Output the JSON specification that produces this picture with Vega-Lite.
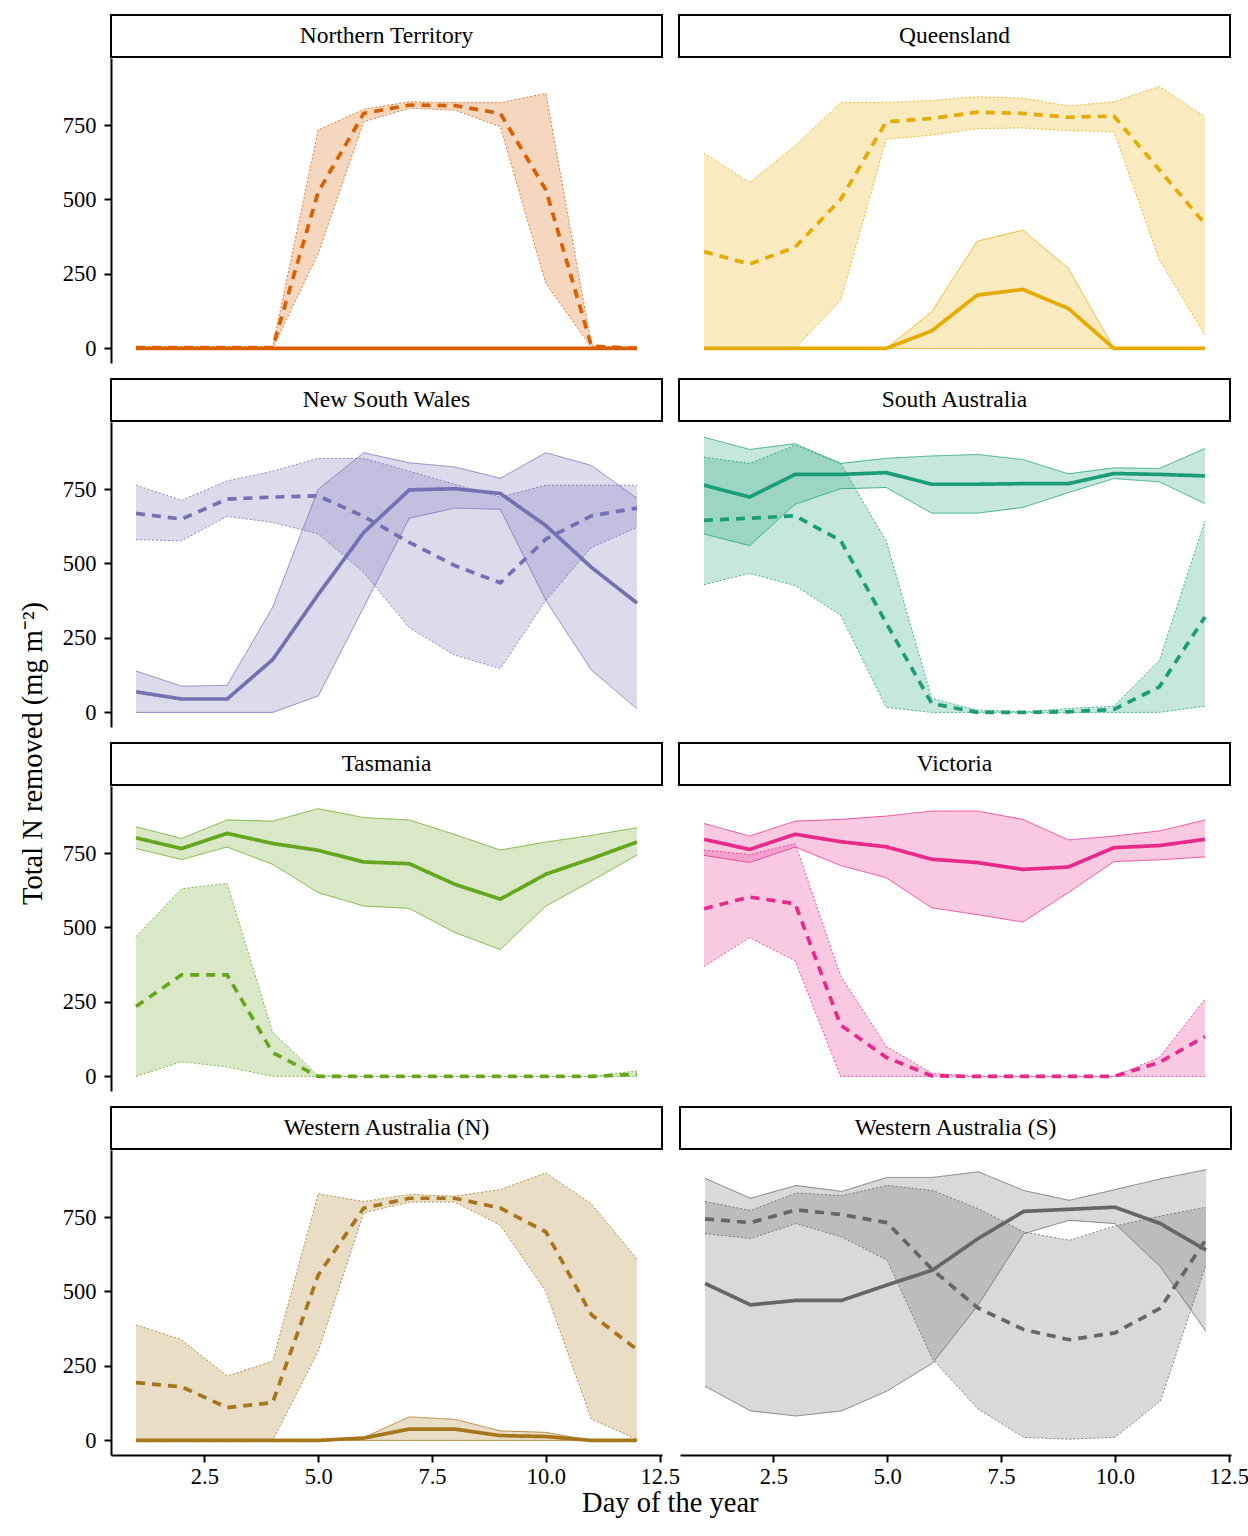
{
"$schema": "https://vega.github.io/schema/vega-lite/v6.json",
"background": "white",
"padding": {"left": 18, "top": 14, "right": 5, "bottom": 5},
"data": {"values": [
{"r":"Northern Territory","t":"solid","x":1,"m":0,"lo":0,"hi":0},
{"r":"Northern Territory","t":"solid","x":2,"m":0,"lo":0,"hi":0},
{"r":"Northern Territory","t":"solid","x":3,"m":0,"lo":0,"hi":0},
{"r":"Northern Territory","t":"solid","x":4,"m":0,"lo":0,"hi":0},
{"r":"Northern Territory","t":"solid","x":5,"m":0,"lo":0,"hi":0},
{"r":"Northern Territory","t":"solid","x":6,"m":0,"lo":0,"hi":0},
{"r":"Northern Territory","t":"solid","x":7,"m":0,"lo":0,"hi":0},
{"r":"Northern Territory","t":"solid","x":8,"m":0,"lo":0,"hi":0},
{"r":"Northern Territory","t":"solid","x":9,"m":0,"lo":0,"hi":0},
{"r":"Northern Territory","t":"solid","x":10,"m":0,"lo":0,"hi":0},
{"r":"Northern Territory","t":"solid","x":11,"m":0,"lo":0,"hi":0},
{"r":"Northern Territory","t":"solid","x":12,"m":0,"lo":0,"hi":0},
{"r":"Northern Territory","t":"dashed","x":1,"m":3,"lo":0,"hi":5},
{"r":"Northern Territory","t":"dashed","x":2,"m":3,"lo":0,"hi":5},
{"r":"Northern Territory","t":"dashed","x":3,"m":3,"lo":0,"hi":5},
{"r":"Northern Territory","t":"dashed","x":4,"m":3,"lo":0,"hi":5},
{"r":"Northern Territory","t":"dashed","x":5,"m":525,"lo":319,"hi":733},
{"r":"Northern Territory","t":"dashed","x":6,"m":789,"lo":761,"hi":803},
{"r":"Northern Territory","t":"dashed","x":7,"m":817,"lo":806,"hi":828},
{"r":"Northern Territory","t":"dashed","x":8,"m":815,"lo":800,"hi":825},
{"r":"Northern Territory","t":"dashed","x":9,"m":789,"lo":744,"hi":825},
{"r":"Northern Territory","t":"dashed","x":10,"m":532,"lo":218,"hi":856},
{"r":"Northern Territory","t":"dashed","x":11,"m":8,"lo":3,"hi":11},
{"r":"Northern Territory","t":"dashed","x":12,"m":0,"lo":0,"hi":0},
{"r":"Queensland","t":"solid","x":1,"m":0,"lo":0,"hi":0},
{"r":"Queensland","t":"solid","x":2,"m":0,"lo":0,"hi":0},
{"r":"Queensland","t":"solid","x":3,"m":0,"lo":0,"hi":0},
{"r":"Queensland","t":"solid","x":4,"m":0,"lo":0,"hi":0},
{"r":"Queensland","t":"solid","x":5,"m":0,"lo":0,"hi":0},
{"r":"Queensland","t":"solid","x":6,"m":59,"lo":0,"hi":123},
{"r":"Queensland","t":"solid","x":7,"m":179,"lo":0,"hi":360},
{"r":"Queensland","t":"solid","x":8,"m":198,"lo":0,"hi":397},
{"r":"Queensland","t":"solid","x":9,"m":134,"lo":0,"hi":269},
{"r":"Queensland","t":"solid","x":10,"m":0,"lo":0,"hi":0},
{"r":"Queensland","t":"solid","x":11,"m":0,"lo":0,"hi":0},
{"r":"Queensland","t":"solid","x":12,"m":0,"lo":0,"hi":0},
{"r":"Queensland","t":"dashed","x":1,"m":325,"lo":0,"hi":655},
{"r":"Queensland","t":"dashed","x":2,"m":283,"lo":0,"hi":557},
{"r":"Queensland","t":"dashed","x":3,"m":340,"lo":0,"hi":680},
{"r":"Queensland","t":"dashed","x":4,"m":500,"lo":162,"hi":825},
{"r":"Queensland","t":"dashed","x":5,"m":761,"lo":702,"hi":826},
{"r":"Queensland","t":"dashed","x":6,"m":772,"lo":716,"hi":832},
{"r":"Queensland","t":"dashed","x":7,"m":793,"lo":738,"hi":845},
{"r":"Queensland","t":"dashed","x":8,"m":789,"lo":740,"hi":840},
{"r":"Queensland","t":"dashed","x":9,"m":776,"lo":731,"hi":814},
{"r":"Queensland","t":"dashed","x":10,"m":780,"lo":728,"hi":828},
{"r":"Queensland","t":"dashed","x":11,"m":599,"lo":297,"hi":879},
{"r":"Queensland","t":"dashed","x":12,"m":418,"lo":45,"hi":778},
{"r":"New South Wales","t":"solid","x":1,"m":69,"lo":0,"hi":139},
{"r":"New South Wales","t":"solid","x":2,"m":45,"lo":0,"hi":88},
{"r":"New South Wales","t":"solid","x":3,"m":45,"lo":0,"hi":91},
{"r":"New South Wales","t":"solid","x":4,"m":177,"lo":0,"hi":353},
{"r":"New South Wales","t":"solid","x":5,"m":396,"lo":55,"hi":749},
{"r":"New South Wales","t":"solid","x":6,"m":604,"lo":353,"hi":872},
{"r":"New South Wales","t":"solid","x":7,"m":747,"lo":652,"hi":838},
{"r":"New South Wales","t":"solid","x":8,"m":751,"lo":686,"hi":824},
{"r":"New South Wales","t":"solid","x":9,"m":735,"lo":682,"hi":786},
{"r":"New South Wales","t":"solid","x":10,"m":627,"lo":376,"hi":872},
{"r":"New South Wales","t":"solid","x":11,"m":487,"lo":142,"hi":829},
{"r":"New South Wales","t":"solid","x":12,"m":367,"lo":12,"hi":719},
{"r":"New South Wales","t":"dashed","x":1,"m":668,"lo":580,"hi":763},
{"r":"New South Wales","t":"dashed","x":2,"m":649,"lo":576,"hi":712},
{"r":"New South Wales","t":"dashed","x":3,"m":716,"lo":658,"hi":777},
{"r":"New South Wales","t":"dashed","x":4,"m":723,"lo":638,"hi":810},
{"r":"New South Wales","t":"dashed","x":5,"m":727,"lo":599,"hi":853},
{"r":"New South Wales","t":"dashed","x":6,"m":658,"lo":470,"hi":853},
{"r":"New South Wales","t":"dashed","x":7,"m":571,"lo":284,"hi":810},
{"r":"New South Wales","t":"dashed","x":8,"m":493,"lo":192,"hi":766},
{"r":"New South Wales","t":"dashed","x":9,"m":435,"lo":147,"hi":723},
{"r":"New South Wales","t":"dashed","x":10,"m":582,"lo":376,"hi":763},
{"r":"New South Wales","t":"dashed","x":11,"m":660,"lo":554,"hi":763},
{"r":"New South Wales","t":"dashed","x":12,"m":686,"lo":621,"hi":763},
{"r":"South Australia","t":"solid","x":1,"m":763,"lo":599,"hi":924},
{"r":"South Australia","t":"solid","x":2,"m":723,"lo":560,"hi":883},
{"r":"South Australia","t":"solid","x":3,"m":799,"lo":699,"hi":902},
{"r":"South Australia","t":"solid","x":4,"m":799,"lo":751,"hi":836},
{"r":"South Australia","t":"solid","x":5,"m":805,"lo":755,"hi":853},
{"r":"South Australia","t":"solid","x":6,"m":766,"lo":669,"hi":861},
{"r":"South Australia","t":"solid","x":7,"m":766,"lo":669,"hi":866},
{"r":"South Australia","t":"solid","x":8,"m":768,"lo":688,"hi":849},
{"r":"South Australia","t":"solid","x":9,"m":768,"lo":738,"hi":801},
{"r":"South Australia","t":"solid","x":10,"m":802,"lo":785,"hi":821},
{"r":"South Australia","t":"solid","x":11,"m":799,"lo":774,"hi":819},
{"r":"South Australia","t":"solid","x":12,"m":794,"lo":701,"hi":886},
{"r":"South Australia","t":"dashed","x":1,"m":645,"lo":429,"hi":857},
{"r":"South Australia","t":"dashed","x":2,"m":652,"lo":467,"hi":836},
{"r":"South Australia","t":"dashed","x":3,"m":660,"lo":426,"hi":897},
{"r":"South Australia","t":"dashed","x":4,"m":577,"lo":326,"hi":836},
{"r":"South Australia","t":"dashed","x":5,"m":300,"lo":17,"hi":576},
{"r":"South Australia","t":"dashed","x":6,"m":30,"lo":0,"hi":47},
{"r":"South Australia","t":"dashed","x":7,"m":0,"lo":0,"hi":8},
{"r":"South Australia","t":"dashed","x":8,"m":0,"lo":0,"hi":2},
{"r":"South Australia","t":"dashed","x":9,"m":2,"lo":0,"hi":13},
{"r":"South Australia","t":"dashed","x":10,"m":10,"lo":0,"hi":21},
{"r":"South Australia","t":"dashed","x":11,"m":86,"lo":0,"hi":175},
{"r":"South Australia","t":"dashed","x":12,"m":320,"lo":21,"hi":643},
{"r":"Tasmania","t":"solid","x":1,"m":801,"lo":765,"hi":838},
{"r":"Tasmania","t":"solid","x":2,"m":765,"lo":728,"hi":799},
{"r":"Tasmania","t":"solid","x":3,"m":816,"lo":770,"hi":861},
{"r":"Tasmania","t":"solid","x":4,"m":782,"lo":712,"hi":857},
{"r":"Tasmania","t":"solid","x":5,"m":759,"lo":617,"hi":899},
{"r":"Tasmania","t":"solid","x":6,"m":720,"lo":572,"hi":869},
{"r":"Tasmania","t":"solid","x":7,"m":714,"lo":564,"hi":861},
{"r":"Tasmania","t":"solid","x":8,"m":645,"lo":483,"hi":812},
{"r":"Tasmania","t":"solid","x":9,"m":595,"lo":426,"hi":760},
{"r":"Tasmania","t":"solid","x":10,"m":679,"lo":572,"hi":787},
{"r":"Tasmania","t":"solid","x":11,"m":731,"lo":656,"hi":809},
{"r":"Tasmania","t":"solid","x":12,"m":787,"lo":743,"hi":835},
{"r":"Tasmania","t":"dashed","x":1,"m":235,"lo":0,"hi":469},
{"r":"Tasmania","t":"dashed","x":2,"m":341,"lo":49,"hi":630},
{"r":"Tasmania","t":"dashed","x":3,"m":341,"lo":32,"hi":648},
{"r":"Tasmania","t":"dashed","x":4,"m":80,"lo":0,"hi":148},
{"r":"Tasmania","t":"dashed","x":5,"m":0,"lo":0,"hi":2},
{"r":"Tasmania","t":"dashed","x":6,"m":0,"lo":0,"hi":0},
{"r":"Tasmania","t":"dashed","x":7,"m":0,"lo":0,"hi":0},
{"r":"Tasmania","t":"dashed","x":8,"m":0,"lo":0,"hi":0},
{"r":"Tasmania","t":"dashed","x":9,"m":0,"lo":0,"hi":0},
{"r":"Tasmania","t":"dashed","x":10,"m":0,"lo":0,"hi":0},
{"r":"Tasmania","t":"dashed","x":11,"m":0,"lo":0,"hi":0},
{"r":"Tasmania","t":"dashed","x":12,"m":7,"lo":0,"hi":19},
{"r":"Victoria","t":"solid","x":1,"m":796,"lo":742,"hi":849},
{"r":"Victoria","t":"solid","x":2,"m":762,"lo":718,"hi":807},
{"r":"Victoria","t":"solid","x":3,"m":813,"lo":770,"hi":857},
{"r":"Victoria","t":"solid","x":4,"m":788,"lo":708,"hi":863},
{"r":"Victoria","t":"solid","x":5,"m":771,"lo":667,"hi":874},
{"r":"Victoria","t":"solid","x":6,"m":729,"lo":566,"hi":891},
{"r":"Victoria","t":"solid","x":7,"m":718,"lo":543,"hi":891},
{"r":"Victoria","t":"solid","x":8,"m":695,"lo":518,"hi":863},
{"r":"Victoria","t":"solid","x":9,"m":703,"lo":617,"hi":794},
{"r":"Victoria","t":"solid","x":10,"m":768,"lo":721,"hi":807},
{"r":"Victoria","t":"solid","x":11,"m":775,"lo":727,"hi":824},
{"r":"Victoria","t":"solid","x":12,"m":796,"lo":737,"hi":861},
{"r":"Victoria","t":"dashed","x":1,"m":563,"lo":369,"hi":760},
{"r":"Victoria","t":"dashed","x":2,"m":602,"lo":466,"hi":745},
{"r":"Victoria","t":"dashed","x":3,"m":580,"lo":388,"hi":782},
{"r":"Victoria","t":"dashed","x":4,"m":172,"lo":0,"hi":338},
{"r":"Victoria","t":"dashed","x":5,"m":64,"lo":0,"hi":101},
{"r":"Victoria","t":"dashed","x":6,"m":2,"lo":0,"hi":11},
{"r":"Victoria","t":"dashed","x":7,"m":0,"lo":0,"hi":0},
{"r":"Victoria","t":"dashed","x":8,"m":0,"lo":0,"hi":0},
{"r":"Victoria","t":"dashed","x":9,"m":0,"lo":0,"hi":0},
{"r":"Victoria","t":"dashed","x":10,"m":0,"lo":0,"hi":0},
{"r":"Victoria","t":"dashed","x":11,"m":47,"lo":0,"hi":64},
{"r":"Victoria","t":"dashed","x":12,"m":134,"lo":0,"hi":259},
{"r":"Western Australia (N)","t":"solid","x":1,"m":0,"lo":0,"hi":0},
{"r":"Western Australia (N)","t":"solid","x":2,"m":0,"lo":0,"hi":0},
{"r":"Western Australia (N)","t":"solid","x":3,"m":0,"lo":0,"hi":0},
{"r":"Western Australia (N)","t":"solid","x":4,"m":0,"lo":0,"hi":0},
{"r":"Western Australia (N)","t":"solid","x":5,"m":0,"lo":0,"hi":0},
{"r":"Western Australia (N)","t":"solid","x":6,"m":8,"lo":0,"hi":10},
{"r":"Western Australia (N)","t":"solid","x":7,"m":38,"lo":0,"hi":79},
{"r":"Western Australia (N)","t":"solid","x":8,"m":38,"lo":0,"hi":71},
{"r":"Western Australia (N)","t":"solid","x":9,"m":16,"lo":0,"hi":32},
{"r":"Western Australia (N)","t":"solid","x":10,"m":13,"lo":0,"hi":27},
{"r":"Western Australia (N)","t":"solid","x":11,"m":0,"lo":0,"hi":0},
{"r":"Western Australia (N)","t":"solid","x":12,"m":0,"lo":0,"hi":0},
{"r":"Western Australia (N)","t":"dashed","x":1,"m":194,"lo":0,"hi":388},
{"r":"Western Australia (N)","t":"dashed","x":2,"m":180,"lo":0,"hi":338},
{"r":"Western Australia (N)","t":"dashed","x":3,"m":110,"lo":0,"hi":216},
{"r":"Western Australia (N)","t":"dashed","x":4,"m":127,"lo":0,"hi":266},
{"r":"Western Australia (N)","t":"dashed","x":5,"m":555,"lo":299,"hi":828},
{"r":"Western Australia (N)","t":"dashed","x":6,"m":780,"lo":764,"hi":802},
{"r":"Western Australia (N)","t":"dashed","x":7,"m":813,"lo":800,"hi":826},
{"r":"Western Australia (N)","t":"dashed","x":8,"m":813,"lo":800,"hi":820},
{"r":"Western Australia (N)","t":"dashed","x":9,"m":780,"lo":722,"hi":842},
{"r":"Western Australia (N)","t":"dashed","x":10,"m":700,"lo":500,"hi":898},
{"r":"Western Australia (N)","t":"dashed","x":11,"m":422,"lo":71,"hi":794},
{"r":"Western Australia (N)","t":"dashed","x":12,"m":305,"lo":4,"hi":609},
{"r":"Western Australia (S)","t":"solid","x":1,"m":527,"lo":182,"hi":880},
{"r":"Western Australia (S)","t":"solid","x":2,"m":455,"lo":99,"hi":813},
{"r":"Western Australia (S)","t":"solid","x":3,"m":470,"lo":82,"hi":856},
{"r":"Western Australia (S)","t":"solid","x":4,"m":470,"lo":99,"hi":836},
{"r":"Western Australia (S)","t":"solid","x":5,"m":522,"lo":166,"hi":883},
{"r":"Western Australia (S)","t":"solid","x":6,"m":572,"lo":260,"hi":883},
{"r":"Western Australia (S)","t":"solid","x":7,"m":678,"lo":455,"hi":902},
{"r":"Western Australia (S)","t":"solid","x":8,"m":769,"lo":694,"hi":839},
{"r":"Western Australia (S)","t":"solid","x":9,"m":776,"lo":739,"hi":806},
{"r":"Western Australia (S)","t":"solid","x":10,"m":783,"lo":728,"hi":842},
{"r":"Western Australia (S)","t":"solid","x":11,"m":728,"lo":583,"hi":878},
{"r":"Western Australia (S)","t":"solid","x":12,"m":639,"lo":366,"hi":909},
{"r":"Western Australia (S)","t":"dashed","x":1,"m":744,"lo":694,"hi":802},
{"r":"Western Australia (S)","t":"dashed","x":2,"m":731,"lo":678,"hi":772},
{"r":"Western Australia (S)","t":"dashed","x":3,"m":774,"lo":728,"hi":831},
{"r":"Western Australia (S)","t":"dashed","x":4,"m":758,"lo":683,"hi":822},
{"r":"Western Australia (S)","t":"dashed","x":5,"m":731,"lo":605,"hi":856},
{"r":"Western Australia (S)","t":"dashed","x":6,"m":572,"lo":272,"hi":839},
{"r":"Western Australia (S)","t":"dashed","x":7,"m":444,"lo":105,"hi":778},
{"r":"Western Australia (S)","t":"dashed","x":8,"m":372,"lo":10,"hi":700},
{"r":"Western Australia (S)","t":"dashed","x":9,"m":338,"lo":4,"hi":672},
{"r":"Western Australia (S)","t":"dashed","x":10,"m":361,"lo":10,"hi":720},
{"r":"Western Australia (S)","t":"dashed","x":11,"m":444,"lo":132,"hi":753},
{"r":"Western Australia (S)","t":"dashed","x":12,"m":675,"lo":589,"hi":783}
]},
"title": {"text": "Total N removed (mg m⁻²)", "orient": "left", "anchor": "middle", "frame": "bounds", "offset": 15, "dx": 12},
"hconcat": [{
"title": {"text": "Day of the year", "orient": "bottom", "anchor": "middle", "frame": "bounds", "offset": 1, "dx": 15},
"spacing": 15,
"vconcat": [
{"hconcat": [
 {"vconcat": [
  {"width": 551, "height": 42, "view": {"stroke": "black", "strokeWidth": 2}, "transform": [{"filter": "datum.r === 'Northern Territory'"}, {"aggregate": [{"op": "count", "as": "n"}], "groupby": ["r"]}], "mark": {"type": "text"}, "encoding": {"text": {"field": "r"}}},
  {"width": 551, "height": 305, "transform": [{"filter": "datum.r === 'Northern Territory'"}],
   "encoding": {"x": {"field": "x", "type": "quantitative", "scale": {"domain": [0.45, 12.55], "nice": false, "zero": false}, "axis": null}, "color": {"value": "#D95F02"}, "detail": {"field": "t"}},
   "layer": [
    {"mark": {"type": "area", "fillOpacity": 0.25}, "encoding": {"y": {"field": "lo", "type": "quantitative", "scale": {"domain": [-49, 975], "nice": false, "zero": false}, "axis": {"values": [0, 250, 500, 750], "title": null}}, "y2": {"field": "hi"}}},
    {"mark": {"type": "line", "strokeWidth": 0.8}, "encoding": {"y": {"field": "lo", "type": "quantitative", "title": null}, "strokeDash": {"condition": {"test": "datum.t === 'dashed'", "value": [2, 2]}, "value": [1, 0]}}},
    {"mark": {"type": "line", "strokeWidth": 0.8}, "encoding": {"y": {"field": "hi", "type": "quantitative", "title": null}, "strokeDash": {"condition": {"test": "datum.t === 'dashed'", "value": [2, 2]}, "value": [1, 0]}}},
    {"mark": {"type": "line", "strokeWidth": 3.7}, "encoding": {"y": {"field": "m", "type": "quantitative", "title": null}, "strokeDash": {"condition": {"test": "datum.t === 'dashed'", "value": [9, 7]}, "value": [1, 0]}}}
   ]}
 ], "spacing": 0},
 {"vconcat": [
  {"width": 551, "height": 42, "view": {"stroke": "black", "strokeWidth": 2}, "transform": [{"filter": "datum.r === 'Queensland'"}, {"aggregate": [{"op": "count", "as": "n"}], "groupby": ["r"]}], "mark": {"type": "text"}, "encoding": {"text": {"field": "r"}}},
  {"width": 551, "height": 305, "transform": [{"filter": "datum.r === 'Queensland'"}],
   "encoding": {"x": {"field": "x", "type": "quantitative", "scale": {"domain": [0.45, 12.55], "nice": false, "zero": false}, "axis": null}, "color": {"value": "#E6AB02"}, "detail": {"field": "t"}},
   "layer": [
    {"mark": {"type": "area", "fillOpacity": 0.25}, "encoding": {"y": {"field": "lo", "type": "quantitative", "scale": {"domain": [-49, 975], "nice": false, "zero": false}, "axis": null}, "y2": {"field": "hi"}}},
    {"mark": {"type": "line", "strokeWidth": 0.8}, "encoding": {"y": {"field": "lo", "type": "quantitative", "axis": null}, "strokeDash": {"condition": {"test": "datum.t === 'dashed'", "value": [2, 2]}, "value": [1, 0]}}},
    {"mark": {"type": "line", "strokeWidth": 0.8}, "encoding": {"y": {"field": "hi", "type": "quantitative", "axis": null}, "strokeDash": {"condition": {"test": "datum.t === 'dashed'", "value": [2, 2]}, "value": [1, 0]}}},
    {"mark": {"type": "line", "strokeWidth": 3.7}, "encoding": {"y": {"field": "m", "type": "quantitative", "axis": null}, "strokeDash": {"condition": {"test": "datum.t === 'dashed'", "value": [9, 7]}, "value": [1, 0]}}}
   ]}
 ], "spacing": 0}
], "spacing": 15},
{"hconcat": [
 {"vconcat": [
  {"width": 551, "height": 42, "view": {"stroke": "black", "strokeWidth": 2}, "transform": [{"filter": "datum.r === 'New South Wales'"}, {"aggregate": [{"op": "count", "as": "n"}], "groupby": ["r"]}], "mark": {"type": "text"}, "encoding": {"text": {"field": "r"}}},
  {"width": 551, "height": 305, "transform": [{"filter": "datum.r === 'New South Wales'"}],
   "encoding": {"x": {"field": "x", "type": "quantitative", "scale": {"domain": [0.45, 12.55], "nice": false, "zero": false}, "axis": null}, "color": {"value": "#7570B3"}, "detail": {"field": "t"}},
   "layer": [
    {"mark": {"type": "area", "fillOpacity": 0.25}, "encoding": {"y": {"field": "lo", "type": "quantitative", "scale": {"domain": [-49, 975], "nice": false, "zero": false}, "axis": {"values": [0, 250, 500, 750], "title": null}}, "y2": {"field": "hi"}}},
    {"mark": {"type": "line", "strokeWidth": 0.8}, "encoding": {"y": {"field": "lo", "type": "quantitative", "title": null}, "strokeDash": {"condition": {"test": "datum.t === 'dashed'", "value": [2, 2]}, "value": [1, 0]}}},
    {"mark": {"type": "line", "strokeWidth": 0.8}, "encoding": {"y": {"field": "hi", "type": "quantitative", "title": null}, "strokeDash": {"condition": {"test": "datum.t === 'dashed'", "value": [2, 2]}, "value": [1, 0]}}},
    {"mark": {"type": "line", "strokeWidth": 3.7}, "encoding": {"y": {"field": "m", "type": "quantitative", "title": null}, "strokeDash": {"condition": {"test": "datum.t === 'dashed'", "value": [9, 7]}, "value": [1, 0]}}}
   ]}
 ], "spacing": 0},
 {"vconcat": [
  {"width": 551, "height": 42, "view": {"stroke": "black", "strokeWidth": 2}, "transform": [{"filter": "datum.r === 'South Australia'"}, {"aggregate": [{"op": "count", "as": "n"}], "groupby": ["r"]}], "mark": {"type": "text"}, "encoding": {"text": {"field": "r"}}},
  {"width": 551, "height": 305, "transform": [{"filter": "datum.r === 'South Australia'"}],
   "encoding": {"x": {"field": "x", "type": "quantitative", "scale": {"domain": [0.45, 12.55], "nice": false, "zero": false}, "axis": null}, "color": {"value": "#1B9E77"}, "detail": {"field": "t"}},
   "layer": [
    {"mark": {"type": "area", "fillOpacity": 0.25}, "encoding": {"y": {"field": "lo", "type": "quantitative", "scale": {"domain": [-49, 975], "nice": false, "zero": false}, "axis": null}, "y2": {"field": "hi"}}},
    {"mark": {"type": "line", "strokeWidth": 0.8}, "encoding": {"y": {"field": "lo", "type": "quantitative", "axis": null}, "strokeDash": {"condition": {"test": "datum.t === 'dashed'", "value": [2, 2]}, "value": [1, 0]}}},
    {"mark": {"type": "line", "strokeWidth": 0.8}, "encoding": {"y": {"field": "hi", "type": "quantitative", "axis": null}, "strokeDash": {"condition": {"test": "datum.t === 'dashed'", "value": [2, 2]}, "value": [1, 0]}}},
    {"mark": {"type": "line", "strokeWidth": 3.7}, "encoding": {"y": {"field": "m", "type": "quantitative", "axis": null}, "strokeDash": {"condition": {"test": "datum.t === 'dashed'", "value": [9, 7]}, "value": [1, 0]}}}
   ]}
 ], "spacing": 0}
], "spacing": 15},
{"hconcat": [
 {"vconcat": [
  {"width": 551, "height": 42, "view": {"stroke": "black", "strokeWidth": 2}, "transform": [{"filter": "datum.r === 'Tasmania'"}, {"aggregate": [{"op": "count", "as": "n"}], "groupby": ["r"]}], "mark": {"type": "text"}, "encoding": {"text": {"field": "r"}}},
  {"width": 551, "height": 305, "transform": [{"filter": "datum.r === 'Tasmania'"}],
   "encoding": {"x": {"field": "x", "type": "quantitative", "scale": {"domain": [0.45, 12.55], "nice": false, "zero": false}, "axis": null}, "color": {"value": "#66A61E"}, "detail": {"field": "t"}},
   "layer": [
    {"mark": {"type": "area", "fillOpacity": 0.25}, "encoding": {"y": {"field": "lo", "type": "quantitative", "scale": {"domain": [-49, 975], "nice": false, "zero": false}, "axis": {"values": [0, 250, 500, 750], "title": null}}, "y2": {"field": "hi"}}},
    {"mark": {"type": "line", "strokeWidth": 0.8}, "encoding": {"y": {"field": "lo", "type": "quantitative", "title": null}, "strokeDash": {"condition": {"test": "datum.t === 'dashed'", "value": [2, 2]}, "value": [1, 0]}}},
    {"mark": {"type": "line", "strokeWidth": 0.8}, "encoding": {"y": {"field": "hi", "type": "quantitative", "title": null}, "strokeDash": {"condition": {"test": "datum.t === 'dashed'", "value": [2, 2]}, "value": [1, 0]}}},
    {"mark": {"type": "line", "strokeWidth": 3.7}, "encoding": {"y": {"field": "m", "type": "quantitative", "title": null}, "strokeDash": {"condition": {"test": "datum.t === 'dashed'", "value": [9, 7]}, "value": [1, 0]}}}
   ]}
 ], "spacing": 0},
 {"vconcat": [
  {"width": 551, "height": 42, "view": {"stroke": "black", "strokeWidth": 2}, "transform": [{"filter": "datum.r === 'Victoria'"}, {"aggregate": [{"op": "count", "as": "n"}], "groupby": ["r"]}], "mark": {"type": "text"}, "encoding": {"text": {"field": "r"}}},
  {"width": 551, "height": 305, "transform": [{"filter": "datum.r === 'Victoria'"}],
   "encoding": {"x": {"field": "x", "type": "quantitative", "scale": {"domain": [0.45, 12.55], "nice": false, "zero": false}, "axis": null}, "color": {"value": "#E7298A"}, "detail": {"field": "t"}},
   "layer": [
    {"mark": {"type": "area", "fillOpacity": 0.25}, "encoding": {"y": {"field": "lo", "type": "quantitative", "scale": {"domain": [-49, 975], "nice": false, "zero": false}, "axis": null}, "y2": {"field": "hi"}}},
    {"mark": {"type": "line", "strokeWidth": 0.8}, "encoding": {"y": {"field": "lo", "type": "quantitative", "axis": null}, "strokeDash": {"condition": {"test": "datum.t === 'dashed'", "value": [2, 2]}, "value": [1, 0]}}},
    {"mark": {"type": "line", "strokeWidth": 0.8}, "encoding": {"y": {"field": "hi", "type": "quantitative", "axis": null}, "strokeDash": {"condition": {"test": "datum.t === 'dashed'", "value": [2, 2]}, "value": [1, 0]}}},
    {"mark": {"type": "line", "strokeWidth": 3.7}, "encoding": {"y": {"field": "m", "type": "quantitative", "axis": null}, "strokeDash": {"condition": {"test": "datum.t === 'dashed'", "value": [9, 7]}, "value": [1, 0]}}}
   ]}
 ], "spacing": 0}
], "spacing": 15},
{"hconcat": [
 {"vconcat": [
  {"width": 551, "height": 42, "view": {"stroke": "black", "strokeWidth": 2}, "transform": [{"filter": "datum.r === 'Western Australia (N)'"}, {"aggregate": [{"op": "count", "as": "n"}], "groupby": ["r"]}], "mark": {"type": "text"}, "encoding": {"text": {"field": "r"}}},
  {"width": 551, "height": 305, "transform": [{"filter": "datum.r === 'Western Australia (N)'"}],
   "encoding": {"x": {"field": "x", "type": "quantitative", "scale": {"domain": [0.45, 12.55], "nice": false, "zero": false}, "axis": {"values": [2.5, 5, 7.5, 10, 12.5], "format": ".1f", "title": null}}, "color": {"value": "#A6761D"}, "detail": {"field": "t"}},
   "layer": [
    {"mark": {"type": "area", "fillOpacity": 0.25}, "encoding": {"y": {"field": "lo", "type": "quantitative", "scale": {"domain": [-49, 975], "nice": false, "zero": false}, "axis": {"values": [0, 250, 500, 750], "title": null}}, "y2": {"field": "hi"}}},
    {"mark": {"type": "line", "strokeWidth": 0.8}, "encoding": {"y": {"field": "lo", "type": "quantitative", "title": null}, "strokeDash": {"condition": {"test": "datum.t === 'dashed'", "value": [2, 2]}, "value": [1, 0]}}},
    {"mark": {"type": "line", "strokeWidth": 0.8}, "encoding": {"y": {"field": "hi", "type": "quantitative", "title": null}, "strokeDash": {"condition": {"test": "datum.t === 'dashed'", "value": [2, 2]}, "value": [1, 0]}}},
    {"mark": {"type": "line", "strokeWidth": 3.7}, "encoding": {"y": {"field": "m", "type": "quantitative", "title": null}, "strokeDash": {"condition": {"test": "datum.t === 'dashed'", "value": [9, 7]}, "value": [1, 0]}}}
   ]}
 ], "spacing": 0},
 {"vconcat": [
  {"width": 551, "height": 42, "view": {"stroke": "black", "strokeWidth": 2}, "transform": [{"filter": "datum.r === 'Western Australia (S)'"}, {"aggregate": [{"op": "count", "as": "n"}], "groupby": ["r"]}], "mark": {"type": "text"}, "encoding": {"text": {"field": "r"}}},
  {"width": 551, "height": 305, "transform": [{"filter": "datum.r === 'Western Australia (S)'"}],
   "encoding": {"x": {"field": "x", "type": "quantitative", "scale": {"domain": [0.45, 12.55], "nice": false, "zero": false}, "axis": {"values": [2.5, 5, 7.5, 10, 12.5], "format": ".1f", "title": null}}, "color": {"value": "#666666"}, "detail": {"field": "t"}},
   "layer": [
    {"mark": {"type": "area", "fillOpacity": 0.25}, "encoding": {"y": {"field": "lo", "type": "quantitative", "scale": {"domain": [-49, 975], "nice": false, "zero": false}, "axis": null}, "y2": {"field": "hi"}}},
    {"mark": {"type": "line", "strokeWidth": 0.8}, "encoding": {"y": {"field": "lo", "type": "quantitative", "axis": null}, "strokeDash": {"condition": {"test": "datum.t === 'dashed'", "value": [2, 2]}, "value": [1, 0]}}},
    {"mark": {"type": "line", "strokeWidth": 0.8}, "encoding": {"y": {"field": "hi", "type": "quantitative", "axis": null}, "strokeDash": {"condition": {"test": "datum.t === 'dashed'", "value": [2, 2]}, "value": [1, 0]}}},
    {"mark": {"type": "line", "strokeWidth": 3.7}, "encoding": {"y": {"field": "m", "type": "quantitative", "axis": null}, "strokeDash": {"condition": {"test": "datum.t === 'dashed'", "value": [9, 7]}, "value": [1, 0]}}}
   ]}
 ], "spacing": 0}
], "spacing": -5}
]}],
"config": {
 "view": {"stroke": null},
 "axis": {"domainColor": "black", "domainWidth": 2, "tickColor": "black", "tickWidth": 2, "tickSize": 7, "labelFont": "Liberation Serif", "labelFontSize": 22.5, "labelColor": "black", "grid": false, "labelOverlap": false, "labelBound": false, "labelFlush": false},
 "axisX": {"labelPadding": 3},
 "axisY": {"labelPadding": 8},
 "title": {"font": "Liberation Serif", "fontSize": 28.5, "fontWeight": "normal", "color": "black"},
 "text": {"font": "Liberation Serif", "fontSize": 23.5, "color": "black"}
}
}
